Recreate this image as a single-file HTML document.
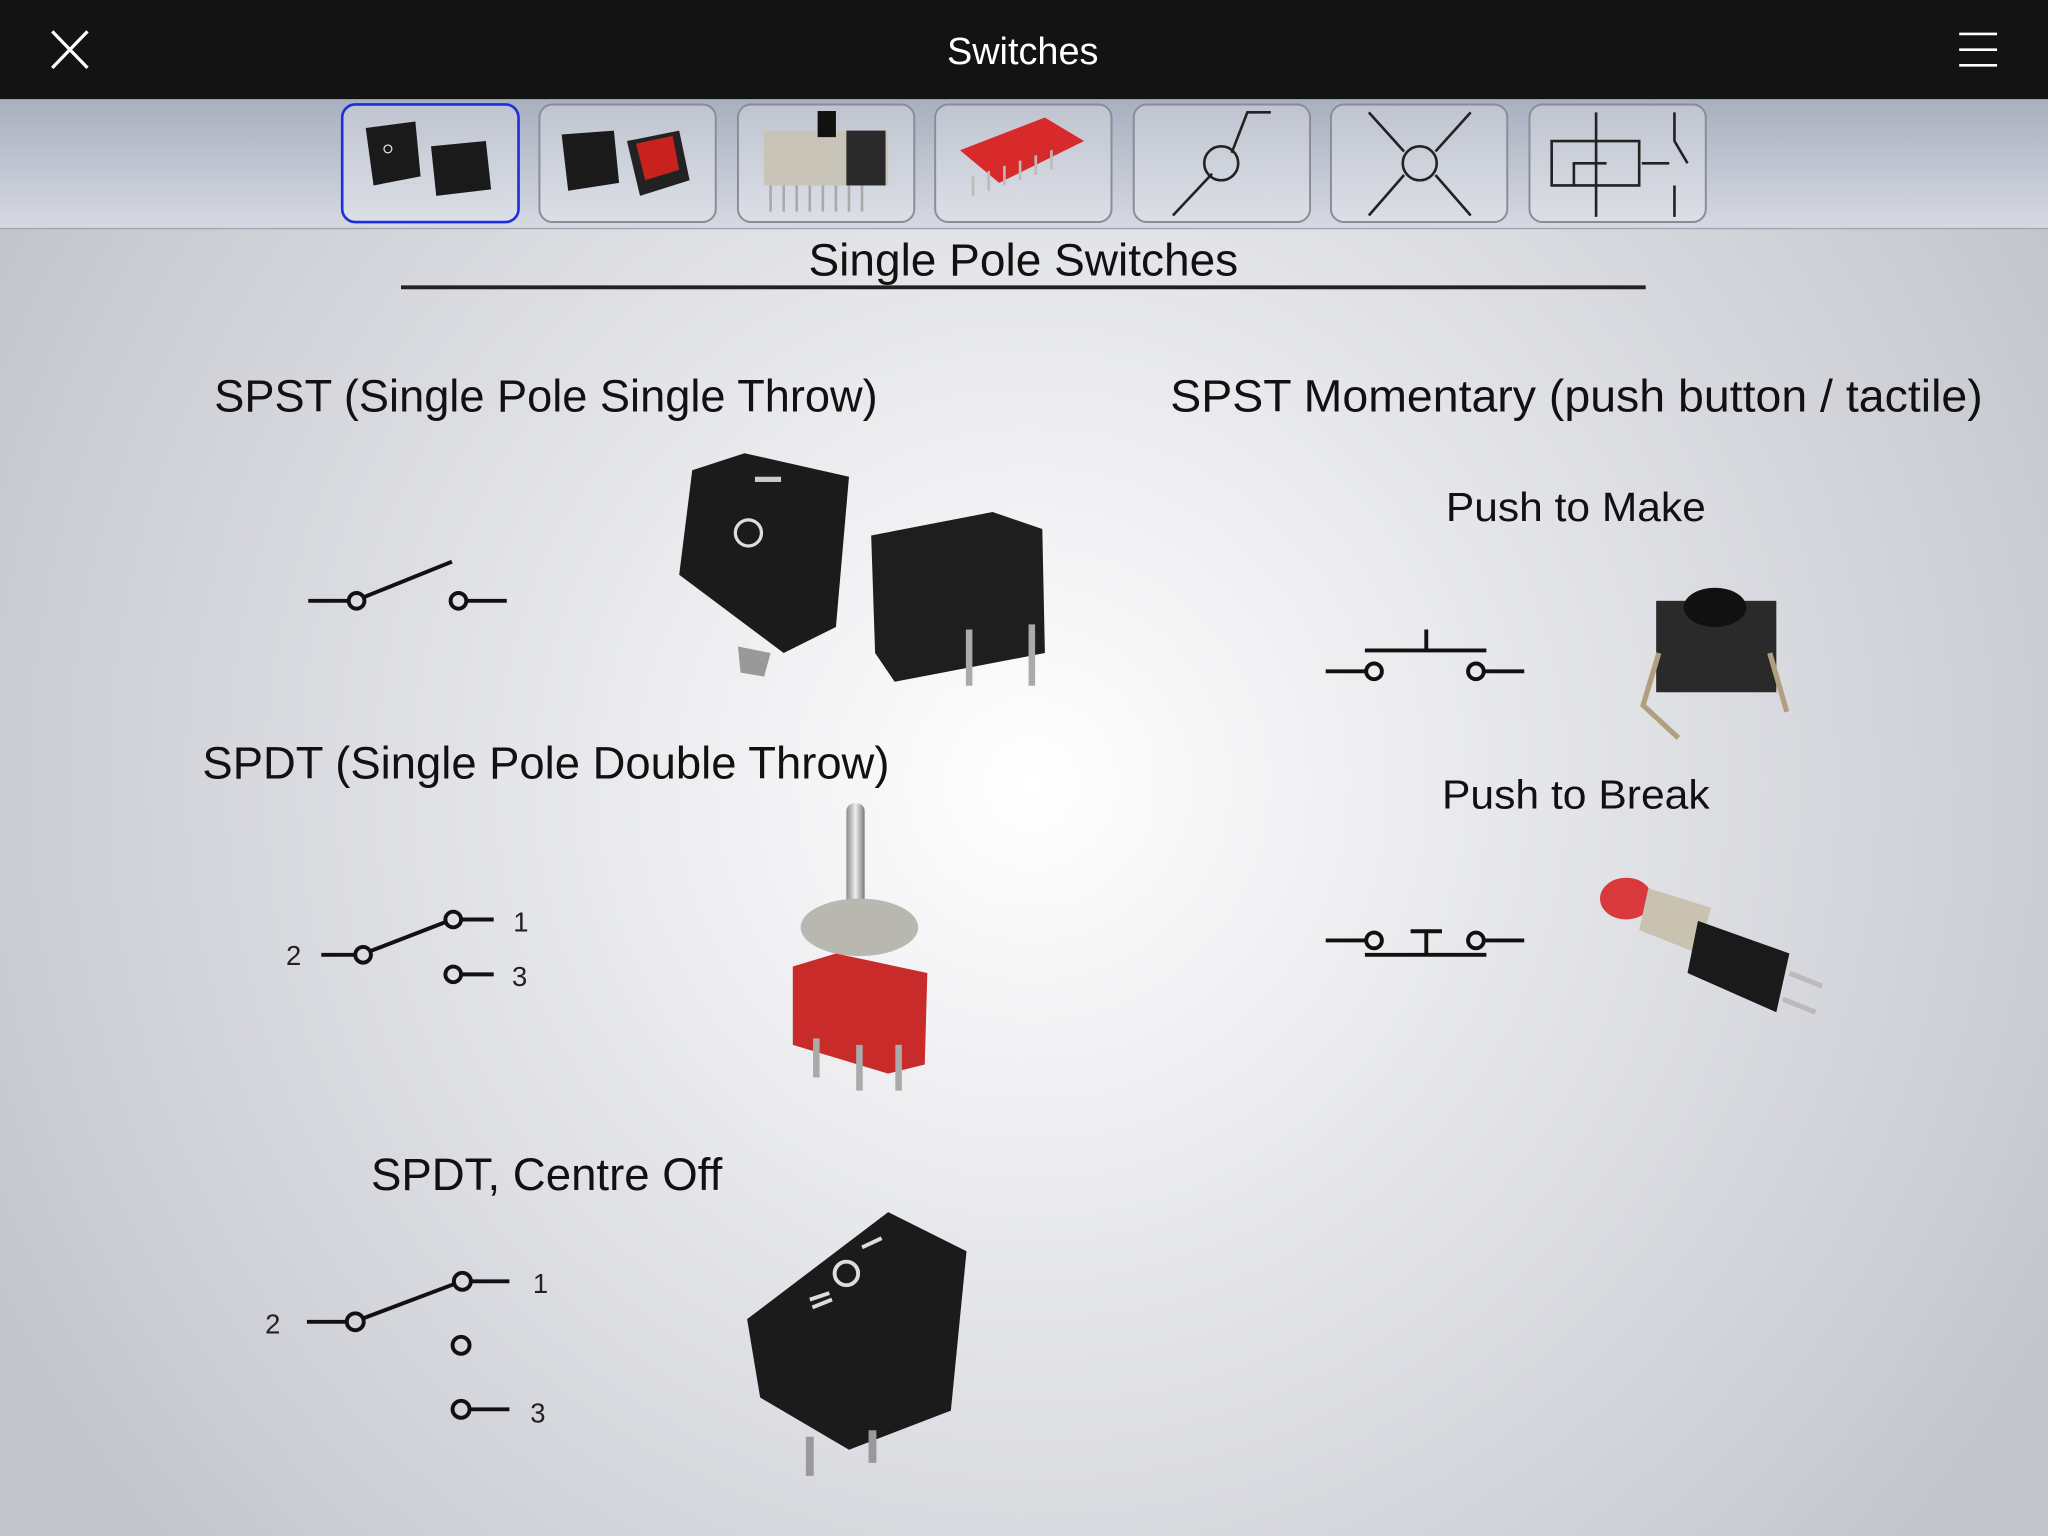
<!DOCTYPE html>
<html><head><meta charset="utf-8"><style>
html,body{margin:0;padding:0;width:2048px;height:1536px;overflow:hidden}
svg{display:block}
text{font-family:"Liberation Sans",sans-serif}
</style></head><body>
<svg width="2048" height="1536" viewBox="0 0 1568 1176" xmlns="http://www.w3.org/2000/svg">
<defs>
<radialGradient id="bg" cx="790" cy="600" r="900" gradientUnits="userSpaceOnUse">
<stop offset="0" stop-color="#ffffff"/><stop offset="1" stop-color="#c3c5cd"/></radialGradient>
<linearGradient id="tb" x1="0" y1="0" x2="0" y2="1"><stop offset="0" stop-color="#a8afbf"/><stop offset="1" stop-color="#d6d9e2"/></linearGradient>
<linearGradient id="btn" x1="0" y1="0" x2="0" y2="1"><stop offset="0" stop-color="#bfc4d0"/><stop offset="1" stop-color="#dcdfe6"/></linearGradient>
<linearGradient id="metal" x1="0" y1="0" x2="1" y2="0"><stop offset="0" stop-color="#8a8a8a"/><stop offset=".5" stop-color="#eeeeee"/><stop offset="1" stop-color="#7a7a7a"/></linearGradient>
</defs>
<rect width="1568" height="1176" fill="url(#bg)"/>
<rect width="1568" height="76" fill="#131313"/>
<path d="M40 24 L67 52 M67 24 L40 52" stroke="#fff" stroke-width="2.5"/>
<text x="783" y="49" font-size="29" fill="#fff" text-anchor="middle">Switches</text>
<path d="M1500 26H1529M1500 38H1529M1500 50H1529" stroke="#fff" stroke-width="2"/>
<rect y="76" width="1568" height="99" fill="url(#tb)"/>
<line x1="0" y1="175" x2="1568" y2="175" stroke="#a0a4ae"/>
<g stroke="#8a8d96" stroke-width="1.5" fill="url(#btn)">
<rect x="413" y="80" width="135" height="90" rx="10"/>
<rect x="565" y="80" width="135" height="90" rx="10"/>
<rect x="716" y="80" width="135" height="90" rx="10"/>
<rect x="868" y="80" width="135" height="90" rx="10"/>
<rect x="1019" y="80" width="135" height="90" rx="10"/>
<rect x="1171" y="80" width="135" height="90" rx="10"/>
</g>
<rect x="262" y="80" width="135" height="90" rx="10" fill="url(#btn)" stroke="#1a2fe0" stroke-width="2"/>
<g>
<path d="M280 98 L318 93 L322 135 L286 142 Z" fill="#1a1a1a"/><circle cx="297" cy="114" r="3" fill="none" stroke="#ddd"/>
<path d="M330 112 L372 108 L376 145 L334 150 Z" fill="#1a1a1a"/>
<path d="M430 103 L470 100 L474 140 L435 146 Z" fill="#1a1a1a"/>
<path d="M480 108 L520 100 L528 138 L490 150 Z" fill="#222"/><path d="M487 110 L515 104 L520 130 L494 138 Z" fill="#c8221e"/>
<rect x="585" y="100" width="95" height="42" fill="#c9c4b8"/><rect x="626" y="85" width="14" height="20" fill="#111"/><rect x="648" y="100" width="30" height="42" fill="#2a2a2a"/>
<path d="M590 142V162M600 142V162M610 142V162M620 142V162M630 142V162M640 142V162M650 142V162M660 142V162" stroke="#aaa" stroke-width="2"/>
<path d="M735 115 L800 90 L830 108 L765 140 Z" fill="#d82a2a"/>
<path d="M745 135V150M757 131V146M769 127V142M781 123V138M793 119V134M805 115V130" stroke="#bbb" stroke-width="2"/>
</g>
<g stroke="#222" stroke-width="2" fill="none">
<path d="M898 165 L928 133 M943 117 L955 86 H973"/><circle cx="935" cy="125" r="13"/>
<path d="M1048 86 L1075 116 M1099 116 L1126 86 M1048 165 L1075 134 M1099 134 L1126 165"/><circle cx="1087" cy="125" r="13"/>
<path d="M1222 86V166M1188 108H1255V142H1188Z M1205 142V125H1230 M1257 125H1278 M1282 86V108 L1292 125 M1282 142V166"/>
</g>
<text x="619" y="211" font-size="35" fill="#111" textLength="329" lengthAdjust="spacingAndGlyphs">Single Pole Switches</text>
<line x1="307" y1="220" x2="1260" y2="220" stroke="#222" stroke-width="3"/>
<g font-size="34.6" fill="#111">
<text x="164" y="315" textLength="508" lengthAdjust="spacingAndGlyphs">SPST (Single Pole Single Throw)</text>
<text x="896" y="315" textLength="622" lengthAdjust="spacingAndGlyphs">SPST Momentary (push button / tactile)</text>
<text x="155" y="596" textLength="526" lengthAdjust="spacingAndGlyphs">SPDT (Single Pole Double Throw)</text>
<text x="284" y="911" textLength="269" lengthAdjust="spacingAndGlyphs">SPDT, Centre Off</text>
</g>
<g font-size="31" fill="#111">
<text x="1107" y="399" textLength="199" lengthAdjust="spacingAndGlyphs">Push to Make</text>
<text x="1104" y="619" textLength="205" lengthAdjust="spacingAndGlyphs">Push to Break</text>
</g>
<g stroke="#111" stroke-width="3" fill="none">
<path d="M236 460H266 M279 457 L346 430 M357 460H388"/><circle cx="273" cy="460" r="6"/><circle cx="351" cy="460" r="6"/>
<path d="M246 731H271 M284 728 L341 706 M353 704H378 M353 746H378"/><circle cx="278" cy="731" r="6"/><circle cx="347" cy="704" r="6"/><circle cx="347" cy="746" r="6"/>
<path d="M235 1012H265 M279 1009 L348 983 M361 981H390 M360 1079H390"/><circle cx="272" cy="1012" r="6.5"/><circle cx="354" cy="981" r="6.5"/><circle cx="353" cy="1030" r="6.5"/><circle cx="353" cy="1079" r="6.5"/>
<path d="M1015 514H1045 M1137 514H1167 M1045 498H1138 M1092 482V498"/><circle cx="1052" cy="514" r="6"/><circle cx="1130" cy="514" r="6"/>
<path d="M1015 720H1045 M1137 720H1167 M1045 731H1138 M1092 713V731 M1080 713H1104"/><circle cx="1052" cy="720" r="6"/><circle cx="1130" cy="720" r="6"/>
</g>
<g font-size="21" fill="#222">
<text x="219" y="739">2</text><text x="393" y="713">1</text><text x="392" y="755">3</text>
<text x="203" y="1021">2</text><text x="408" y="990">1</text><text x="406" y="1089">3</text>
</g>
<path d="M530 360 L570 347 L650 365 L640 480 L600 500 L520 440 Z" fill="#1b1b1b"/>
<rect x="578" y="365" width="20" height="4" fill="#ccc"/><circle cx="573" cy="408" r="10" fill="none" stroke="#ddd" stroke-width="2.5"/>
<path d="M565 495 L590 500 L585 518 L567 515Z" fill="#999"/>
<path d="M667 410 L760 392 L798 405 L800 500 L685 522 L670 500Z" fill="#1e1e1e"/>
<path d="M742 482V525 M790 478V525" stroke="#aaa" stroke-width="5"/>
<rect x="1268" y="460" width="92" height="70" fill="#2a2a2a"/><ellipse cx="1313" cy="465" rx="24" ry="15" fill="#111"/>
<path d="M1270 500 L1258 540 L1285 565 M1355 500 L1368 545" stroke="#b0a080" stroke-width="4" fill="none"/>
<rect x="648" y="615" width="14" height="80" rx="6" fill="url(#metal)"/>
<ellipse cx="658" cy="710" rx="45" ry="22" fill="#b8b8b0"/>
<path d="M607 740 L640 730 L710 745 L708 815 L680 822 L607 800Z" fill="#c92a2a"/>
<path d="M625 795V825 M658 800V835 M688 800V835" stroke="#aaa" stroke-width="5"/>
<ellipse cx="1245" cy="688" rx="20" ry="16" fill="#d9393d"/>
<path d="M1262 680 L1310 695 L1300 730 L1255 712Z" fill="#c9c2b0"/>
<path d="M1300 705 L1370 730 L1360 775 L1292 745Z" fill="#1a1a1a"/>
<path d="M1370 745 L1395 755 M1365 765 L1390 775" stroke="#bbb" stroke-width="4"/>
<path d="M572 1010 L680 928 L740 958 L728 1080 L650 1110 L582 1070Z" fill="#1b1b1b"/>
<circle cx="648" cy="975" r="9" fill="none" stroke="#ddd" stroke-width="3"/>
<path d="M660 955 L675 948 M620 995 L635 990 M622 1001 L637 995" stroke="#ddd" stroke-width="3"/>
<path d="M620 1100V1130 M668 1095V1120" stroke="#999" stroke-width="6"/>
</svg>
</body></html>
